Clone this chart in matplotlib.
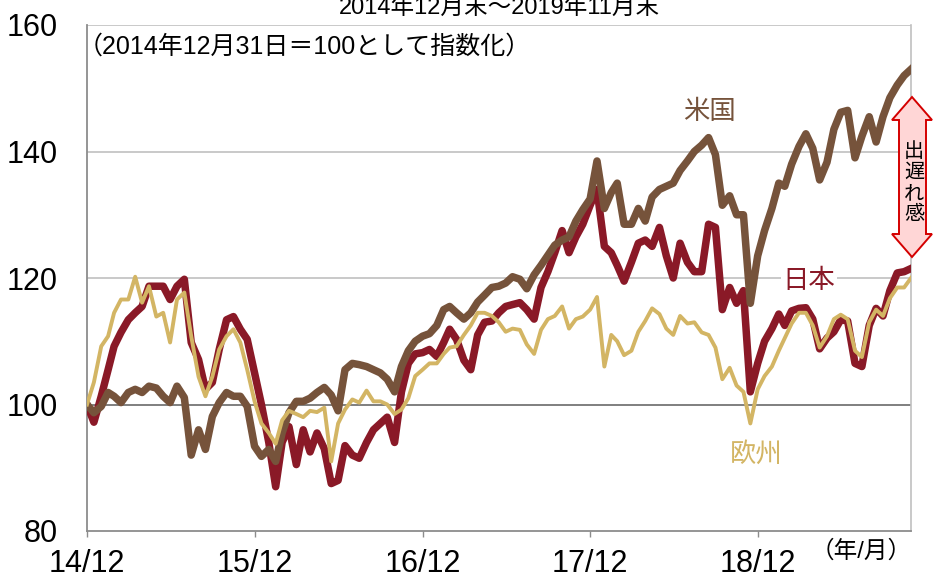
import calendar
import numpy as np
import pandas as pd
import matplotlib
matplotlib.use("Agg")
import matplotlib.pyplot as plt
from matplotlib.patches import Polygon

plt.rcParams['font.family'] = ['Liberation Sans', 'Noto Sans CJK JP', 'DejaVu Sans']

# ---------------- data (semi-monthly, 2014/12/31 = 100) ----------------
dates = [pd.Timestamp(2014, 12, 31)]
for yy in range(2015, 2020):
    for mm in range(1, 13):
        if yy == 2019 and mm > 11:
            break
        dates.append(pd.Timestamp(yy, mm, 15))
        dates.append(pd.Timestamp(yy, mm, calendar.monthrange(yy, mm)[1]))

us = [100, 98.7, 99.7, 101.9, 101.3, 100.3, 101.9, 102.4, 101.9, 102.9,
      102.6, 101.3, 100.3, 102.9, 101.1, 92, 96, 92.9, 98.1, 100.3,
      101.9, 101.3, 101.3, 99.7, 93.4, 91.8, 92.9, 91, 95.5, 98.7,
      100.5, 100.5, 101, 101.9, 102.7, 101.5, 99, 105.5, 106.5, 106.3,
      106, 105.5, 105, 104, 102, 106, 108.5, 110, 110.8, 111.2,
      112.5, 115, 115.5, 114.5, 113.5, 114.5, 116.2, 117.3, 118.5, 118.7,
      119.2, 120.2, 119.8, 118.3, 120.5, 122, 123.6, 125.2, 126, 126.5,
      129, 130.8, 132.5, 138.5, 131, 133.5, 135, 128.5, 128.5, 131,
      129, 132.8, 134, 134.5, 135, 137, 138.5, 140, 141, 142.2,
      139.5, 131.5, 133, 130, 130, 116, 123.5, 127.5, 131, 135,
      134.5, 138, 140.8, 142.8, 140.5, 135.5, 138.3, 143.5, 146.2, 146.5,
      139, 142.4, 145.5, 141.5, 145.5, 148.5, 150.5, 152, 153]

japan = [100, 97.2, 101.3, 105.5, 109.2, 111.4, 113.4, 114.5, 115.5, 118.7,
         118.7, 118.7, 116.6, 118.7, 119.8, 109.8, 107.1, 102.4, 103.5, 108.7,
         113.4, 113.9, 111.9, 110.3, 105, 100, 94, 87, 94, 96.5,
         90.5, 96, 92.5, 95.5, 93, 87.5, 88, 93.5, 92, 91.5,
         94, 96, 97, 98, 94, 102, 106.5, 108, 108.2, 108.7,
         107.6, 109.8, 111.9, 110.3, 107, 105.5, 111, 113, 113.2, 114.5,
         115.5, 115.8, 116.1, 115, 113.5, 118.5, 121, 124, 127.5, 124,
         126.5, 128.5, 131.5, 134, 125, 124, 122, 119.5, 122.5, 125.5,
         126, 125, 128, 123.5, 120, 125.5, 122.5, 121, 121, 128.5,
         128, 115, 118.5, 116, 118, 102, 106.5, 110, 112, 114.3,
         112.5, 114.8, 115.2, 115.3, 113.5, 108.8, 110.5, 111.5, 113.4, 113.2,
         106.5, 106, 112.5, 115.2, 114, 118, 120.8, 121, 121.5]

europe = [100, 103.5, 109.2, 110.8, 114.5, 116.6, 116.6, 120.2, 116.1, 118.7,
          113.9, 114.5, 109.8, 116.6, 117.7, 110.8, 104.4, 101.3, 104.4, 108.7,
          110.8, 111.9, 109.8, 105.5, 100.5, 97, 95.5, 93.8, 97.5, 99,
          98.5, 98, 99, 98.8, 99.5, 91, 97, 99.2, 100.8, 100.3,
          102.2, 100.5, 100.5, 100, 98.5, 99.2, 101, 104.5, 105.5, 106.5,
          106.5, 108, 109, 109.2, 111, 112.5, 114.5, 114.5, 114, 113,
          111.5, 112, 111.8, 109.5, 108, 111.8, 113.5, 114, 115.5, 112,
          113.5, 113.9, 115, 117, 106, 111, 110, 107.8, 108.5, 111.5,
          113.2, 115.2, 114.3, 112, 111, 114, 112.8, 113, 111.4, 111,
          109, 104, 105.8, 103, 102, 97, 102.4, 104.5, 106, 108.5,
          110.5, 112.8, 114.5, 114.5, 112.5, 109, 110.8, 113.5, 114.2, 113.5,
          108.5, 107.5, 113, 115, 114, 116.8, 118.5, 118.5, 120]

xtick_dates = [pd.Timestamp(2014, 12, 31), pd.Timestamp(2015, 12, 31),
               pd.Timestamp(2016, 12, 31), pd.Timestamp(2017, 12, 31),
               pd.Timestamp(2018, 12, 31)]
xtick_labels = ['14/12', '15/12', '16/12', '17/12', '18/12']
yticks = [80, 100, 120, 140, 160]

title = '2014年12月末～2019年11月末'
subtitle = '（2014年12月31日＝100として指数化）'
series_names = ['米国', '日本', '欧州']
gap_label = '出遅れ感'
unit_label = '（年/月）'

# ---------------- style ----------------
c_us = '#76533B'
c_jp = '#8A1927'
c_eu = '#D3B564'

W, H = 934, 577
fig = plt.figure(figsize=(W / 100, H / 100), dpi=100)
ax = fig.add_axes([87 / W, (H - 531) / H, (911 - 87) / W, (531 - 25) / H])

ax.plot(dates, japan, color=c_jp, lw=5.4, zorder=3, solid_joinstyle='round')
ax.plot(dates, us, color=c_us, lw=5.4, zorder=4, solid_joinstyle='round')
ax.plot(dates, europe, color=c_eu, lw=2.8, zorder=5, solid_joinstyle='round')

ax.set_xlim(pd.Timestamp(2014, 12, 31), pd.Timestamp(2019, 11, 30))
ax.set_ylim(80, 160)
ax.set_yticks(yticks)
ax.set_xticks(xtick_dates)
ax.set_xticklabels(xtick_labels)

for v in [120, 140, 160]:
    ax.axhline(v, color='#C0C0C0', lw=1.2, zorder=1)
ax.axhline(100, color='#7F7F7F', lw=1.4, zorder=2)

ax.spines['top'].set_visible(False)
ax.spines['left'].set_color('#8C8C8C')
ax.spines['left'].set_linewidth(1.3)
ax.spines['bottom'].set_color('#8C8C8C')
ax.spines['bottom'].set_linewidth(1.3)
ax.spines['right'].set_color('#C0C0C0')
ax.spines['right'].set_linewidth(1.2)

ax.tick_params(axis='y', length=0, pad=21, labelsize=22, colors='#000000')
ax.tick_params(axis='x', direction='out', length=4, width=1, color='#8C8C8C',
               pad=9, labelsize=22)

# texts
fig.text(499 / W, 1 - 9 / H, title, ha='center', va='center', fontsize=17)
fig.text(78 / W, 1 - 47 / H, subtitle, ha='left', va='center', fontsize=18)
fig.text(861 / W, 1 - 552 / H, unit_label, ha='center', va='center', fontsize=17)

def fx(px):
    return (px - 87) / (911 - 87)

def fy(py):
    return (531 - py) / (531 - 25)

ax.text(fx(709), fy(112), series_names[0], transform=ax.transAxes,
        ha='center', va='center', fontsize=19, color=c_us, zorder=6)
ax.text(fx(809), fy(281), series_names[1], transform=ax.transAxes,
        ha='center', va='center', fontsize=19, color=c_jp, zorder=6,
        bbox=dict(facecolor='white', edgecolor='none', pad=1.5))
ax.text(fx(756), fy(454), series_names[2], transform=ax.transAxes,
        ha='center', va='center', fontsize=19, color=c_eu, zorder=6)

# double arrow
arrow_px = [(912, 97), (932, 120), (926, 120), (926, 234), (932, 234),
            (912, 257), (892, 234), (899, 234), (899, 120), (892, 120)]
poly = Polygon([(fx(x), fy(y)) for x, y in arrow_px], closed=True,
               transform=ax.transAxes, facecolor='#FFD6D6', edgecolor='#D40000',
               lw=1.4, clip_on=False, zorder=7)
ax.add_patch(poly)
ax.text(fx(914), fy(183), '\n'.join(gap_label), transform=ax.transAxes,
        ha='center', va='center', fontsize=14.5, linespacing=1.12,
        color='black', zorder=8, clip_on=False)

fig.savefig('out.png', dpi=100)
